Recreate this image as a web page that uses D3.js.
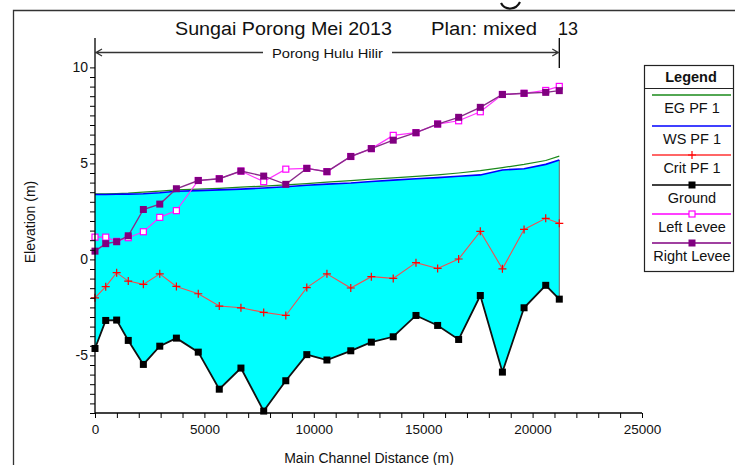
<!DOCTYPE html>
<html>
<head>
<meta charset="utf-8">
<script src="https://cdn.jsdelivr.net/npm/d3@7/dist/d3.min.js"></script>
<style>
  html, body { margin: 0; padding: 0; background: #fff; }
  svg { display: block; }
  .narrow { font-family: "Liberation Sans Narrow", "Arial Narrow", "Liberation Sans", Arial, sans-serif; }
  .sans { font-family: "Liberation Sans", Arial, sans-serif; }
</style>
</head>
<body>
<svg id="chart" width="735" height="465"></svg>
<script>
// River stations along the main channel (m)
const stations = [0, 490, 990, 1520, 2210, 2960, 3720, 4720, 5680, 6670, 7710, 8720, 9680,
  10600, 11690, 12630, 13630, 14670, 15660, 16620, 17610, 18620, 19610, 20600, 21220];

// Profile elevations (m)
const egPF1 = [3.42, 3.42, 3.43, 3.45, 3.50, 3.56, 3.62, 3.66, 3.70, 3.76, 3.82, 3.88, 3.95,
  4.02, 4.10, 4.18, 4.25, 4.32, 4.40, 4.50, 4.62, 4.78, 4.95, 5.15, 5.38];
const wsPF1 = [3.38, 3.38, 3.39, 3.40, 3.42, 3.47, 3.55, 3.58, 3.62, 3.66, 3.72, 3.78, 3.86,
  3.92, 3.98, 4.06, 4.13, 4.20, 4.26, 4.33, 4.40, 4.66, 4.72, 4.95, 5.18];
const critPF1 = [-2.00, -1.42, -0.69, -1.13, -1.30, -0.75, -1.41, -1.79, -2.43, -2.52, -2.76, -2.92, -1.47,
  -0.75, -1.49, -0.90, -0.99, -0.17, -0.47, 0.02, 1.46, -0.49, 1.56, 2.14, 1.88];
const ground = [-4.64, -3.18, -3.16, -4.22, -5.47, -4.52, -4.10, -4.83, -6.76, -5.66, -7.90, -6.32, -4.96,
  -5.24, -4.76, -4.31, -4.03, -2.92, -3.44, -4.17, -1.88, -5.87, -2.52, -1.35, -2.07];
const leftLevee = [1.16, 1.16, 0.94, 1.13, 1.44, 2.19, 2.54, 4.11, 4.20, 4.60, 4.05, 4.70, 4.74,
  4.57, 5.36, 5.77, 6.46, 6.60, 7.05, 7.22, 7.69, 8.59, 8.65, 8.80, 9.01];
const rightLevee = [0.43, 0.82, 0.92, 1.23, 2.60, 2.88, 3.68, 4.11, 4.20, 4.60, 4.34, 3.91, 4.74,
  4.57, 5.36, 5.77, 6.21, 6.60, 7.05, 7.40, 7.92, 8.59, 8.65, 8.70, 8.79];

const xTicks = [0, 5000, 10000, 15000, 20000, 25000];
const yTicks = [-5, 0, 5, 10];
const legendLabels = ["EG  PF 1", "WS  PF 1", "Crit  PF 1", "Ground", "Left Levee", "Right Levee"];

const titleMain = "Sungai Porong Mei 2013";
const titlePlan = "Plan: mixed";
const titleNum = "13";
const reachName = "Porong Hulu Hilir";

const svg = d3.select("#chart");

// Plot geometry
const x = d3.scaleLinear().domain([0, 25000]).range([95, 642]);
const y = d3.scaleLinear().domain([-8, 10]).range([413, 67.4]);

// Outer frame
svg.append("path")
  .attr("d", "M13.5,470 L13.5,10.5 L740,10.5")
  .attr("fill", "none").attr("stroke", "#333").attr("stroke-width", 1.3);
// stray glyph fragment at the top edge
svg.append("path")
  .attr("d", "M501,3 Q504,9 511,8.5 Q517,8 520,2")
  .attr("fill", "none").attr("stroke", "#111").attr("stroke-width", 2.2);

// Water area between ground and water surface
const rows = stations.map((s, i) => ({ s, ws: wsPF1[i], g: ground[i], eg: egPF1[i], c: critPF1[i], ll: leftLevee[i], rl: rightLevee[i] }));
svg.append("path")
  .datum(rows)
  .attr("d", d3.area().x(d => x(d.s)).y0(d => y(d.g)).y1(d => y(d.ws)))
  .attr("fill", "#00FFFF");
// vertical edge at downstream end
svg.append("line")
  .attr("x1", x(stations[stations.length - 1])).attr("x2", x(stations[stations.length - 1]))
  .attr("y1", y(wsPF1[wsPF1.length - 1])).attr("y2", y(ground[ground.length - 1]))
  .attr("stroke", "#666").attr("stroke-width", 1);

function lineOf(key) {
  return d3.line().x(d => x(d.s)).y(d => y(d[key]));
}

// EG and WS
svg.append("path").datum(rows).attr("d", lineOf("eg"))
  .attr("fill", "none").attr("stroke", "#1a8a1a").attr("stroke-width", 1.2);
svg.append("path").datum(rows).attr("d", lineOf("ws"))
  .attr("fill", "none").attr("stroke", "#0000FF").attr("stroke-width", 1.6);

// Critical depth
svg.append("path").datum(rows).attr("d", lineOf("c"))
  .attr("fill", "none").attr("stroke", "#F05050").attr("stroke-width", 1.1);
svg.append("g").selectAll("path").data(rows).join("path")
  .attr("d", d => `M${x(d.s) - 4},${y(d.c)}h8M${x(d.s)},${y(d.c) - 4}v8`)
  .attr("stroke", "#FF0000").attr("stroke-width", 1.2);

// Ground
svg.append("path").datum(rows).attr("d", lineOf("g"))
  .attr("fill", "none").attr("stroke", "#111").attr("stroke-width", 1.8);
svg.append("g").selectAll("rect").data(rows).join("rect")
  .attr("x", d => x(d.s) - 3.5).attr("y", d => y(d.g) - 3.5)
  .attr("width", 7).attr("height", 7).attr("fill", "#000");

// Left levee
svg.append("path").datum(rows).attr("d", lineOf("ll"))
  .attr("fill", "none").attr("stroke", "#FF33FF").attr("stroke-width", 1.2);
svg.append("g").selectAll("rect").data(rows).join("rect")
  .attr("x", d => x(d.s) - 3).attr("y", d => y(d.ll) - 3)
  .attr("width", 6).attr("height", 6).attr("fill", "#fff")
  .attr("stroke", "#FF00FF").attr("stroke-width", 1.2);

// Right levee
svg.append("path").datum(rows).attr("d", lineOf("rl"))
  .attr("fill", "none").attr("stroke", "#8a2a8a").attr("stroke-width", 1.4);
svg.append("g").selectAll("rect").data(rows).join("rect")
  .attr("x", d => x(d.s) - 3.5).attr("y", d => y(d.rl) - 3.5)
  .attr("width", 7).attr("height", 7).attr("fill", "#800080");

// Axes
const xAxis = d3.axisBottom(x).tickValues(d3.range(0, 25001, 1000)).tickSize(5)
  .tickFormat(d => xTicks.includes(d) ? d : "");
const gx = svg.append("g").attr("transform", "translate(0,413)").call(xAxis);
gx.select(".domain").attr("stroke", "#000").attr("stroke-width", 1.3).attr("d", "M95,0H642");
gx.selectAll(".tick line").attr("stroke", "#000");
gx.selectAll("text").attr("class", "narrow").attr("font-size", 13.5).attr("fill", "#111").attr("dy", "0.95em");

const yAxis = d3.axisLeft(y).tickValues(d3.range(-8, 10.01, 0.5)).tickSize(5)
  .tickFormat(d => yTicks.includes(d) ? d : "");
const gy = svg.append("g").attr("transform", "translate(95,0)").call(yAxis);
gy.select(".domain").attr("stroke", "#000").attr("stroke-width", 1.3).attr("d", "M0,413V38");
gy.selectAll(".tick line").attr("stroke", "#000");
gy.selectAll("text").attr("class", "narrow").attr("font-size", 14).attr("fill", "#111").attr("x", -7);

// Axis titles
svg.append("text").attr("class", "narrow")
  .attr("x", 369).attr("y", 463).attr("text-anchor", "middle").attr("font-size", 14).attr("fill", "#111")
  .text("Main Channel Distance (m)");
svg.append("text").attr("class", "narrow")
  .attr("transform", "translate(35,222) rotate(-90)").attr("text-anchor", "middle").attr("font-size", 14).attr("fill", "#111")
  .text("Elevation (m)");

// Title
const title = svg.append("g").attr("class", "sans").attr("font-size", 18).attr("fill", "#111");
title.append("text").attr("x", 175).attr("y", 35).attr("textLength", 217).attr("lengthAdjust", "spacingAndGlyphs").text(titleMain);
title.append("text").attr("x", 431).attr("y", 35).attr("textLength", 106).attr("lengthAdjust", "spacingAndGlyphs").text(titlePlan);
title.append("text").attr("x", 558).attr("y", 35).attr("textLength", 20).attr("lengthAdjust", "spacingAndGlyphs").text(titleNum);

// Reach extent marker
const rx0 = x(stations[0]), rx1 = x(stations[stations.length - 1]), ry = 52.5;
svg.append("line").attr("x1", rx1).attr("x2", rx1).attr("y1", 38).attr("y2", 68)
  .attr("stroke", "#000").attr("stroke-width", 1.3);
svg.append("path")
  .attr("d", `M${rx0},${ry}H263M392,${ry}H${rx1}M${rx0 + 7},${ry - 3.5}L${rx0 + 1},${ry}L${rx0 + 7},${ry + 3.5}M${rx1 - 7},${ry - 3.5}L${rx1 - 1},${ry}L${rx1 - 7},${ry + 3.5}`)
  .attr("fill", "none").attr("stroke", "#333").attr("stroke-width", 1.3);
svg.append("text").attr("class", "narrow")
  .attr("x", 272).attr("y", 57.5).attr("font-size", 13.5).attr("fill", "#111")
  .attr("textLength", 111).attr("lengthAdjust", "spacingAndGlyphs")
  .text(reachName);

// Legend
const lg = svg.append("g");
lg.append("rect").attr("x", 644.5).attr("y", 65.5).attr("width", 89).attr("height", 206)
  .attr("fill", "#fff").attr("stroke", "#222").attr("stroke-width", 1.2);
lg.append("line").attr("x1", 644.5).attr("x2", 733.5).attr("y1", 88.5).attr("y2", 88.5)
  .attr("stroke", "#222").attr("stroke-width", 1.2);
lg.append("text").attr("class", "sans").attr("x", 691).attr("y", 81.5).attr("text-anchor", "middle")
  .attr("font-size", 14.5).attr("font-weight", "bold").attr("fill", "#111").text("Legend");

const legendStyles = [
  { color: "#1a8a1a", marker: null },
  { color: "#0000FF", marker: null },
  { color: "#FF3333", marker: "plus" },
  { color: "#000", marker: "square" },
  { color: "#FF00FF", marker: "open" },
  { color: "#800080", marker: "square" }
];
const lineYs = [95, 126, 155, 185, 214, 243];
legendLabels.forEach((lab, i) => {
  const st = legendStyles[i];
  const ly = lineYs[i];
  lg.append("line").attr("x1", 652).attr("x2", 731).attr("y1", ly).attr("y2", ly)
    .attr("stroke", st.color).attr("stroke-width", 1.3);
  if (st.marker === "plus") {
    lg.append("path").attr("d", `M688,${ly}h8M692,${ly - 4}v8`).attr("stroke", "#FF0000").attr("stroke-width", 1.2);
  } else if (st.marker === "square") {
    lg.append("rect").attr("x", 688.5).attr("y", ly - 3.5).attr("width", 7).attr("height", 7).attr("fill", st.color);
  } else if (st.marker === "open") {
    lg.append("rect").attr("x", 689).attr("y", ly - 3).attr("width", 6).attr("height", 6)
      .attr("fill", "#fff").attr("stroke", st.color).attr("stroke-width", 1.2);
  }
  lg.append("text").attr("class", "sans").attr("x", 692).attr("y", ly + 18).attr("text-anchor", "middle")
    .attr("font-size", 14.5).attr("fill", "#111").text(lab);
});
</script>
</body>
</html>
